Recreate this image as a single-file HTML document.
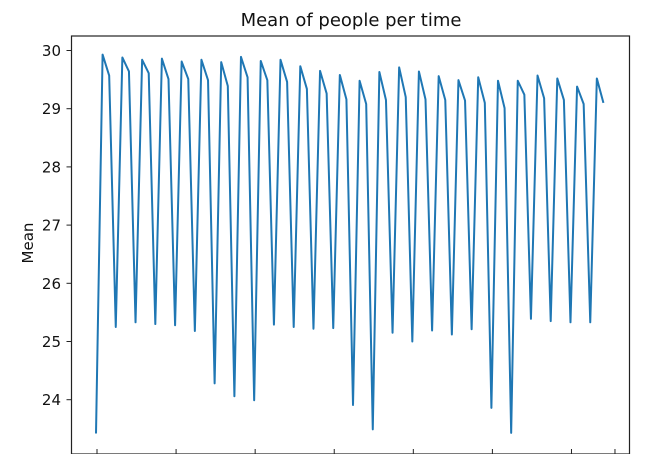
<!DOCTYPE html>
<html><head><meta charset="utf-8"><style>
body{margin:0;background:#fff;}
svg{display:block;font-family:"DejaVu Sans","Liberation Sans",sans-serif;}
</style></head><body>
<svg id="chart" width="656" height="454" viewBox="0 0 656 454">
<text x="351" y="26" text-anchor="middle" font-size="18" fill="#111">Mean of people per time</text>
<text transform="translate(33,243) rotate(-90)" text-anchor="middle" font-size="15" fill="#111">Mean</text>
<g id="yticks"></g><g id="xticks"></g>
<path id="line" fill="none" stroke="#1f77b4" stroke-width="2" stroke-linejoin="round"/>
<rect x="71.5" y="36" width="558" height="418" fill="none" stroke="#222" stroke-width="1.2"/>
</svg>
<script>
const lows=[23.42,25.25,25.33,25.30,25.28,25.18,24.28,24.06,23.99,25.29,25.25,25.22,25.23,23.91,23.49,25.15,25.00,25.19,25.12,25.21,23.86,23.43,25.39,25.35,25.33,25.33];
const peaks=[29.93,29.88,29.84,29.86,29.81,29.84,29.80,29.89,29.82,29.84,29.73,29.65,29.58,29.48,29.63,29.71,29.64,29.56,29.49,29.54,29.48,29.48,29.57,29.52,29.38,29.52];
const seconds=[29.57,29.64,29.61,29.51,29.51,29.49,29.39,29.54,29.49,29.46,29.34,29.26,29.16,29.08,29.15,29.20,29.16,29.15,29.14,29.10,29.01,29.24,29.18,29.15,29.08,29.10];
const yTickLabels=[24,25,26,27,28,29,30];
const xTickIdx=[0,12,24,36,48,60,72];
const ns='http://www.w3.org/2000/svg';
function xs(i){return 96+i*6.59;}
function ys(v){return 50.5+(30-v)*58.2;}
const vals=[];
for(let k=0;k<lows.length;k++){vals.push(lows[k]);vals.push(peaks[k]);vals.push(seconds[k]);}
let d='';
vals.forEach((v,i)=>{d+=(i?'L':'M')+xs(i).toFixed(2)+','+ys(v).toFixed(2);});
document.getElementById('line').setAttribute('d',d);
const yg=document.getElementById('yticks');
yTickLabels.forEach(t=>{
  const y=ys(t);
  const l=document.createElementNS(ns,'line');
  l.setAttribute('x1',66.5);l.setAttribute('x2',71.5);l.setAttribute('y1',y);l.setAttribute('y2',y);l.setAttribute('stroke','#222');
  
  
  yg.appendChild(l);
  const tx=document.createElementNS(ns,'text');
  tx.setAttribute('x',61);tx.setAttribute('y',y+5.5);tx.setAttribute('text-anchor','end');tx.setAttribute('font-size','15');tx.setAttribute('fill','#111');
  tx.textContent=t;
  
  
  yg.appendChild(tx);
});
const xg=document.getElementById('xticks');
xTickIdx.concat([78.6]).forEach(i=>{
  const x=xs(i)+1;
  const l=document.createElementNS(ns,'line');
  l.setAttribute('x1',x);l.setAttribute('x2',x);l.setAttribute('y1',449);l.setAttribute('y2',454);l.setAttribute('stroke','#222');
  
  
  xg.appendChild(l);
});
</script>
</body></html>
